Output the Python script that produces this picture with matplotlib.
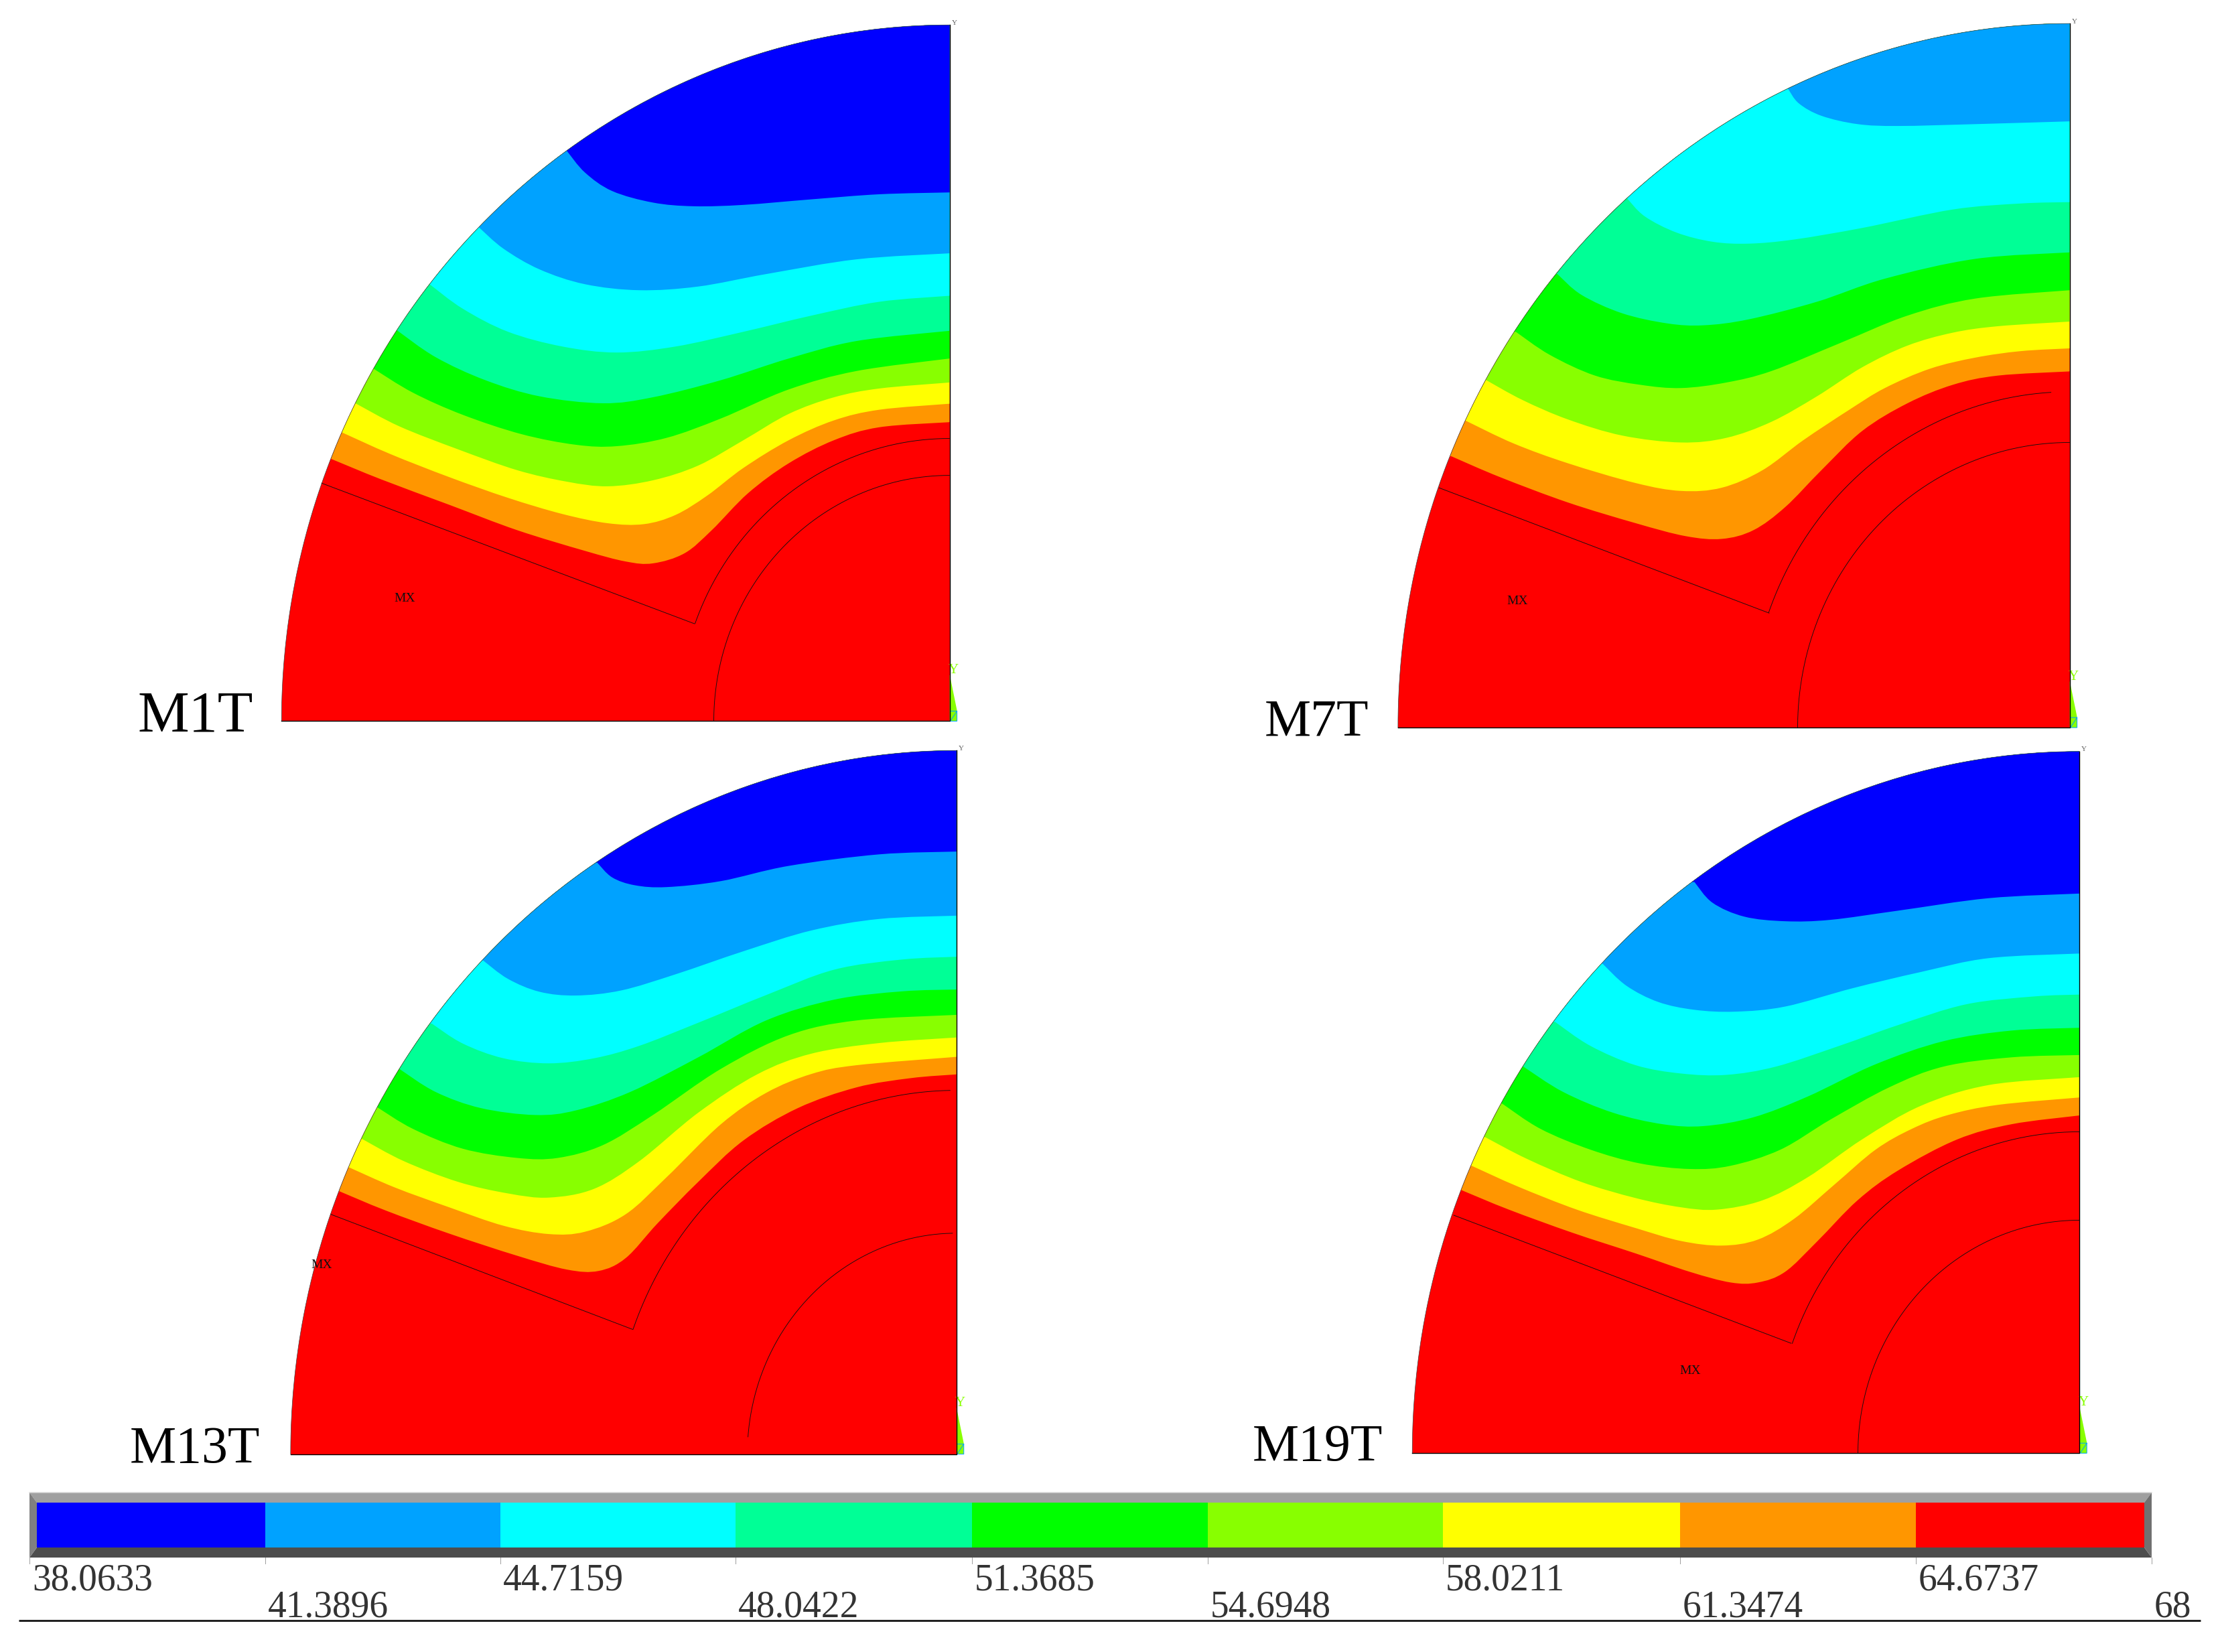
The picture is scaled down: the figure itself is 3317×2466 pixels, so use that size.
import matplotlib
matplotlib.use("Agg")
import matplotlib.pyplot as plt
import numpy as np
from matplotlib.patches import Ellipse, PathPatch, Rectangle
from matplotlib.path import Path

FONT = "Liberation Serif"
PX = 0.72  # one image pixel in points at dpi 100

# contour colours, low to high
BAND_COLORS = ["#0000FF", "#00A2FF", "#00FFFF", "#00FF96", "#00FF00",
               "#88FF00", "#FFFF00", "#FF9600", "#FF0000"]
LEVEL_LABELS = ["38.0633", "41.3896", "44.7159", "48.0422", "51.3685",
                "54.6948", "58.0211", "61.3474", "64.6737", "68"]
LEGEND_TICKS = [44, 396, 747, 1098, 1451, 1803, 2154, 2508, 2860, 3212]
LEGEND_EDGES = [55, 396, 747, 1098, 1451, 1803, 2154, 2508, 2860, 3201]

# Crop pixels are scaled by ZOOM_X / ZOOM_Y and shifted by the panel origin.
ZOOM_X = 1.479
ZOOM_Y = 1.452

M1T_CURVES = [
    [(660, 298), (700, 345), (760, 385), (850, 410), (940, 418), (1050, 415), (1200, 403), (1350, 392), (1505, 388)],
    [(465, 463), (520, 510), (600, 555), (700, 587), (820, 600), (950, 592), (1100, 565), (1300, 533), (1505, 520)],
    [(357, 587), (430, 640), (530, 690), (650, 722), (770, 735), (900, 722), (1050, 690), (1200, 655), (1350, 625), (1505, 612)],
    [(285, 687), (370, 745), (480, 795), (600, 830), (740, 845), (850, 832), (1000, 795), (1150, 748), (1300, 710), (1505, 688)],
    [(233, 770), (320, 822), (430, 870), (560, 912), (680, 935), (770, 938), (880, 920), (1000, 878), (1150, 815), (1300, 775), (1505, 748)],
    [(193, 845), (290, 895), (420, 945), (550, 990), (660, 1015), (750, 1025), (850, 1012), (950, 980), (1050, 925), (1150, 868), (1250, 832), (1350, 813), (1505, 800)],
    [(163, 908), (270, 955), (400, 1005), (530, 1050), (650, 1085), (750, 1105), (830, 1107), (900, 1087), (970, 1045), (1050, 985), (1150, 925), (1250, 882), (1350, 859), (1505, 846)],
    [(138, 965), (250, 1010), (400, 1065), (550, 1120), (700, 1165), (790, 1188), (850, 1192), (920, 1170), (980, 1120), (1060, 1040), (1150, 975), (1250, 925), (1350, 897), (1505, 886)],
]
M7T_CURVES = [
    [(886, 163), (910, 195), (960, 222), (1040, 240), (1130, 244), (1300, 240), (1508, 234)],
    [(530, 400), (570, 440), (640, 475), (720, 495), (800, 499), (900, 490), (1050, 465), (1250, 425), (1400, 412), (1508, 409)],
    [(377, 565), (430, 610), (520, 650), (620, 672), (700, 676), (800, 663), (950, 625), (1100, 575), (1300, 532), (1508, 518)],
    [(285, 690), (360, 740), (460, 785), (560, 805), (650, 812), (750, 800), (850, 775), (1000, 715), (1150, 655), (1300, 618), (1508, 600)],
    [(220, 795), (300, 838), (400, 880), (520, 915), (650, 930), (750, 920), (850, 885), (950, 830), (1050, 767), (1150, 720), (1250, 692), (1350, 678), (1508, 668)],
    [(175, 883), (280, 932), (400, 975), (550, 1018), (650, 1035), (740, 1028), (830, 990), (920, 925), (1020, 860), (1100, 812), (1200, 770), (1300, 746), (1400, 732), (1508, 726)],
    [(143, 960), (250, 1005), (400, 1060), (550, 1105), (660, 1133), (740, 1139), (810, 1120), (880, 1070), (960, 990), (1050, 905), (1150, 845), (1250, 805), (1350, 785), (1508, 776)],
]
M13T_CURVES = [
    [(727, 258), (760, 290), (810, 307), (880, 311), (1000, 298), (1150, 265), (1350, 240), (1520, 234)],
    [(475, 470), (530, 510), (600, 538), (680, 546), (780, 535), (900, 500), (1050, 450), (1200, 405), (1350, 380), (1520, 373)],
    [(362, 607), (430, 650), (520, 682), (620, 693), (720, 682), (820, 655), (950, 605), (1100, 545), (1250, 490), (1400, 468), (1520, 462)],
    [(290, 705), (370, 755), (470, 790), (590, 805), (680, 795), (800, 755), (950, 680), (1100, 600), (1250, 555), (1400, 537), (1520, 533)],
    [(241, 788), (320, 835), (430, 878), (550, 898), (640, 898), (740, 870), (850, 805), (1000, 705), (1150, 632), (1300, 600), (1520, 588)],
    [(208, 857), (300, 905), (420, 950), (530, 975), (620, 984), (720, 965), (820, 905), (950, 800), (1080, 717), (1200, 672), (1350, 649), (1520, 637)],
    [(178, 918), (280, 962), (400, 1005), (520, 1045), (620, 1063), (700, 1058), (790, 1020), (880, 940), (1000, 825), (1100, 757), (1200, 716), (1300, 697), (1520, 679)],
    [(157, 970), (260, 1012), (400, 1062), (550, 1110), (660, 1140), (730, 1143), (790, 1115), (860, 1040), (950, 950), (1050, 860), (1170, 790), (1300, 745), (1420, 725), (1520, 717)],
]
M19T_CURVES = [
    [(650, 300), (690, 345), (760, 375), (850, 385), (950, 382), (1100, 362), (1300, 335), (1500, 325)],
    [(447, 477), (500, 525), (570, 560), (650, 577), (740, 581), (850, 570), (1000, 530), (1150, 495), (1300, 465), (1500, 455)],
    [(342, 603), (420, 655), (520, 697), (620, 715), (720, 718), (830, 700), (970, 655), (1100, 610), (1250, 565), (1400, 548), (1500, 544)],
    [(272, 700), (360, 755), (470, 800), (580, 825), (670, 829), (780, 810), (900, 765), (1050, 695), (1200, 645), (1350, 622), (1500, 616)],
    [(225, 780), (310, 835), (420, 880), (530, 910), (640, 922), (730, 915), (840, 880), (950, 815), (1080, 745), (1200, 700), (1350, 680), (1500, 675)],
    [(188, 853), (280, 900), (400, 950), (520, 985), (620, 1005), (700, 1010), (800, 990), (900, 940), (1020, 858), (1150, 785), (1300, 740), (1500, 723)],
    [(158, 915), (260, 960), (390, 1010), (520, 1050), (620, 1078), (710, 1088), (790, 1075), (870, 1030), (960, 955), (1050, 880), (1130, 835), (1210, 805), (1320, 783), (1500, 767)],
    [(136, 968), (240, 1010), (380, 1060), (520, 1105), (640, 1145), (730, 1168), (790, 1168), (850, 1145), (920, 1080), (1010, 990), (1100, 925), (1230, 858), (1350, 825), (1500, 806)],
]

PANEL_NAMES = ["M1T", "M7T", "M13T", "M19T"]
PANEL_CURVES = [M1T_CURVES, M7T_CURVES, M13T_CURVES, M19T_CURVES]
PANEL_ORIGINS = [(400, 20), (2070, 20), (400, 1110), (2090, 1110)]
# left, right, top, bottom of each sector, in crop pixels
PANEL_BOXES = [(30, 1505, 25, 1534), (25, 1508, 22, 1548), (50, 1520, 15, 1540), (27, 1500, 17, 1538)]
# outline of the magnet: slot start, slot corner, arc radius, arc end x, inner radius, inner end
SLOT_STARTS = [(118, 1018), (115, 1028), (138, 1020), (118, 1022)]
SLOT_CORNERS = [(942, 1323), (845, 1300), (806, 1270), (864, 1300)]
OUTER_RADII = [0.406, 0.477, 0.517, 0.458]
INNER_RADII = [0.353, 0.405, 0.314, 0.332]
ARC_END_DEG = [90, 93.3, 91, 90]
INNER_START_DEG = [180, 180, 175.6, 180]
MX_SPOTS = [(302, 1268), (289, 1274), (118, 1130), (640, 1360)]
# panel label: left, baseline in image pixels, size in points
LABEL_SPOTS = [(206, 1092, 62), (1888, 1098, 56), (194, 2183, 56), (1870, 2180, 56)]

fig = plt.figure(figsize=(33.17, 24.66), dpi=100)
ax = fig.add_axes([0, 0, 1, 1])
ax.set_xlim(0, 3317)
ax.set_ylim(2466, 0)
ax.axis("off")


def smooth_path(points, top, far_left):
	# Catmull-Rom through the read points as Bezier pieces, closed over the top.
	pts = np.array(points, dtype=float)
	verts = [(far_left, pts[0, 1]), tuple(pts[0])]
	codes = [Path.MOVETO, Path.LINETO]
	for i in range(len(pts) - 1):
		before = pts[max(i - 1, 0)]
		after = pts[min(i + 2, len(pts) - 1)]
		verts.append(tuple(pts[i] + (pts[i + 1] - before) / 6))
		verts.append(tuple(pts[i + 1] - (after - pts[i]) / 6))
		verts.append(tuple(pts[i + 1]))
		codes += [Path.CURVE4] * 3
	verts += [(pts[-1, 0], top), (far_left, top), (far_left, pts[0, 1])]
	codes += [Path.LINETO, Path.LINETO, Path.CLOSEPOLY]
	return Path(verts, codes)


for n, name in enumerate(PANEL_NAMES):
	ox, oy = PANEL_ORIGINS[n]
	to_x = lambda v: ox + np.asarray(v, dtype=float) / ZOOM_X
	to_y = lambda v: oy + np.asarray(v, dtype=float) / ZOOM_Y
	left, right, top, bottom = PANEL_BOXES[n]
	left, right, top, bottom = to_x(left), to_x(right), to_y(top), to_y(bottom)
	rx, ry = right - left, bottom - top

	clip = Ellipse((right, bottom), 2 * rx, 2 * ry, transform=ax.transData)
	base = ax.add_patch(Rectangle((left, top), rx, ry, facecolor=BAND_COLORS[-1], edgecolor="none", zorder=1))
	base.set_clip_path(clip)

	# paint from the hottest band upward, each layer covers all above its curve
	curves = PANEL_CURVES[n]
	for k, curve in enumerate(reversed(curves)):
		pts = [(to_x(x), to_y(y)) for x, y in curve]
		patch = PathPatch(smooth_path(pts, top - 20, left - 40), facecolor=BAND_COLORS[-2 - k], edgecolor="none", zorder=2 + k)
		ax.add_patch(patch)
		patch.set_clip_path(clip)

	line_kw = dict(color="#101010", lw=0.9 * PX, zorder=20, solid_capstyle="butt")
	t = np.radians(np.linspace(90, 180, 300))
	ax.plot(right + rx * np.cos(t), bottom - ry * np.sin(t), color="#404040", lw=0.7 * PX, zorder=20)
	ax.plot([left, right, right], [bottom, bottom, top], color="black", lw=1.4 * PX, zorder=20)

	start, corner = SLOT_STARTS[n], SLOT_CORNERS[n]
	ax.plot([to_x(start[0]), to_x(corner[0])], [to_y(start[1]), to_y(corner[1])], **line_kw)
	corner_t = np.arctan2((bottom - to_y(corner[1])) / ry, (to_x(corner[0]) - right) / rx)
	# ARC_END_DEG above 90 leaves the arc short of the right edge
	end_t = np.radians(ARC_END_DEG[n])
	t = np.linspace(end_t, corner_t, 200)
	ax.plot(right + OUTER_RADII[n] * rx * np.cos(t), bottom - OUTER_RADII[n] * ry * np.sin(t), **line_kw)
	t = np.radians(np.linspace(90 + (1 if n == 2 else 0), INNER_START_DEG[n], 200))
	ax.plot(right + INNER_RADII[n] * rx * np.cos(t), bottom - INNER_RADII[n] * ry * np.sin(t), **line_kw)

	mx, my = MX_SPOTS[n]
	ax.text(to_x(mx), to_y(my), "MX", family=FONT, fontsize=14, color="#101010", ha="center", va="center", zorder=21)

	# small triad at the corner
	ax.fill([right, right + 11, right + 11, right], [bottom - 70, bottom - 16, bottom, bottom], color="#88FF00", lw=0, zorder=18)
	ax.plot([right + 1, right + 11, right + 11, right + 1, right + 1, right + 11],
		[bottom - 15, bottom - 15, bottom, bottom, bottom - 15 + 15, bottom - 15], color="#00A2FF", lw=1 * PX, zorder=19)
	ax.text(right + 6, bottom - 76, "Y", family=FONT, fontsize=15, color="#88FF00", ha="center", va="center", zorder=19)
	ax.text(right + 7, top - 3, "Y", family=FONT, fontsize=8, color="#606060", ha="center", va="center", zorder=19)

	lx, ly, size = LABEL_SPOTS[n]
	ax.text(lx, ly, name, family=FONT, fontsize=size, color="black", ha="left", va="baseline", zorder=25)

# legend bar with its bevel
bar_left, bar_right, bar_top, bar_bottom = LEGEND_TICKS[0], LEGEND_TICKS[-1], 2228, 2325
in_left, in_right, in_top, in_bottom = LEGEND_EDGES[0], LEGEND_EDGES[-1], 2243, 2310
ax.fill([bar_left, bar_right, in_right, in_left], [bar_top, bar_top, in_top, in_top], color="#A0A0A0", lw=0)
ax.fill([bar_left, bar_right, in_right, in_left], [bar_bottom, bar_bottom, in_bottom, in_bottom], color="#4D4D4D", lw=0)
ax.fill([bar_left, in_left, in_left, bar_left], [bar_top, in_top, in_bottom, bar_bottom], color="#808080", lw=0)
ax.fill([bar_right, in_right, in_right, bar_right], [bar_top, in_top, in_bottom, bar_bottom], color="#707070", lw=0)
ax.plot([bar_left, bar_right], [bar_top, bar_top], color="#D8D8D8", lw=1.5 * PX)
for i, color in enumerate(BAND_COLORS):
	ax.add_patch(Rectangle((LEGEND_EDGES[i], in_top), LEGEND_EDGES[i + 1] - LEGEND_EDGES[i], in_bottom - in_top, facecolor=color, edgecolor="none"))

for i, label in enumerate(LEVEL_LABELS):
	tick = LEGEND_TICKS[i]
	ax.plot([tick, tick], [bar_bottom, 2334], color="#A0A0A0", lw=1 * PX)
	baseline = 2373 if i % 2 == 0 else 2413
	ax.text(tick + 4, baseline, label, family=FONT, fontsize=40, color="#333333", ha="left", va="baseline")

ax.plot([28, 3285], [2419, 2419], color="#222222", lw=3 * PX, solid_capstyle="butt")

fig.savefig("out.png", dpi=100, facecolor="white")
